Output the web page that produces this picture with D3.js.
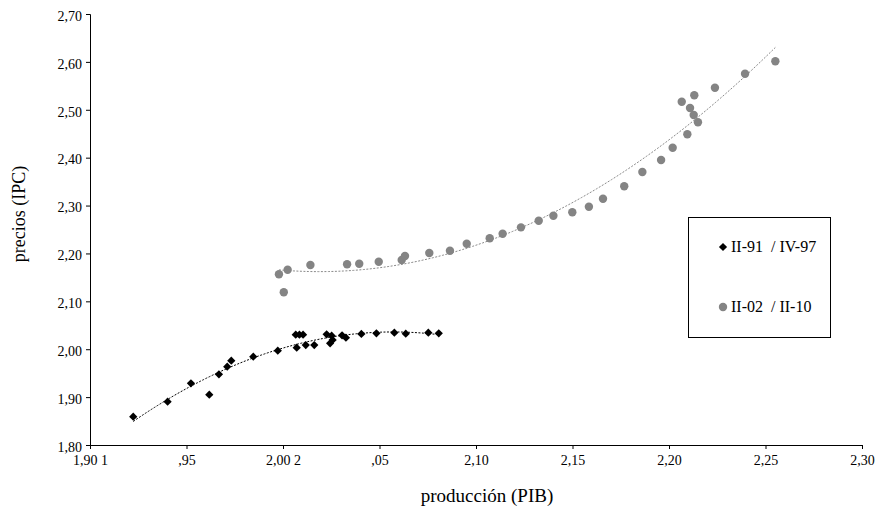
<!DOCTYPE html>
<html>
<head>
<meta charset="utf-8">
<script src="https://cdn.jsdelivr.net/npm/d3@7"></script>
<style>
  body { margin: 0; background: #fff; }
  text { font-family: "Liberation Serif", "DejaVu Serif", serif; }
</style>
</head>
<body>
<script>
// Series 1: II-91 / IV-97 (black diamonds)
let pibA = [1.9224, 1.9402, 1.9523, 1.9618, 1.9668, 1.9711, 1.9732, 1.9846, 1.9973, 2.0066,
            2.0071, 2.0085, 2.0104, 2.0118, 2.0162, 2.0226, 2.0244, 2.0252, 2.0257, 2.0306,
            2.0326, 2.0406, 2.0484, 2.0577, 2.0636, 2.0753, 2.0807];
let ipcA = [1.8591, 1.8904, 1.9288, 1.9051, 1.9476, 1.9635, 1.9760, 1.9844, 1.9969, 2.0303,
            2.0032, 2.0303, 2.0303, 2.0088, 2.0088, 2.0311, 2.0124, 2.0282, 2.0193, 2.0290,
            2.0240, 2.0318, 2.0332, 2.0345, 2.0324, 2.0345, 2.0332];

// Series 2: II-02 / II-10 (grey circles)
let pibB = [1.9979, 2.0004, 2.0024, 2.0142, 2.0332, 2.0395, 2.0496, 2.0615, 2.0632, 2.0758,
            2.0865, 2.0952, 2.1071, 2.1138, 2.1233, 2.1325, 2.1401, 2.1499, 2.1585, 2.1658,
            2.1768, 2.1862, 2.1959, 2.2019, 2.2066, 2.2095, 2.2109, 2.2128, 2.2131, 2.2150,
            2.2238, 2.2394, 2.2551];
let ipcB = [2.1564, 2.1189, 2.1661, 2.1759, 2.1773, 2.1786, 2.1828, 2.1863, 2.1947, 2.2009,
            2.2057, 2.2203, 2.2316, 2.2412, 2.2545, 2.2684, 2.2788, 2.2859, 2.2976, 2.3143,
            2.3402, 2.3701, 2.3951, 2.4208, 2.5169, 2.4488, 2.5037, 2.4891, 2.5302, 2.4738,
            2.5461, 2.5753, 2.6012];

let seriesNames = ["II-91  / IV-97", "II-02  / II-10"];

// Axis ticks and their labels (as printed in the original)
let xTicks = [1.90, 1.95, 2.00, 2.05, 2.10, 2.15, 2.20, 2.25, 2.30];
let xTickLabels = ["1,90 1", ",95", "2,00 2", ",05", "2,10", "2,15", "2,20", "2,25", "2,30"];
let yTicks = [1.80, 1.90, 2.00, 2.10, 2.20, 2.30, 2.40, 2.50, 2.60, 2.70];
let yTickLabels = ["1,80", "1,90", "2,00", "2,10", "2,20", "2,30", "2,40", "2,50", "2,60", "2,70"];

let w = 877;
let h = 511;
let padL = 90, padR = 862, padT = 14, padB = 445;

let svg = d3.select("body")
    .append("svg")
    .attr("width", w)
    .attr("height", h);

let x = d3.scaleLinear().domain([1.90, 2.30]).range([padL, padR]);
let y = d3.scaleLinear().domain([1.80, 2.70]).range([padB, padT]);

// quadratic least-squares fit (like the spreadsheet trendline)
function quadFit(xs, ys) {
    let mx = d3.mean(xs);
    let s = [0, 0, 0, 0, 0], t = [0, 0, 0];
    xs.forEach(function(xv, i) {
        let u = xv - mx;
        for (let k = 0; k < 5; k++) s[k] += Math.pow(u, k);
        for (let k = 0; k < 3; k++) t[k] += ys[i] * Math.pow(u, k);
    });
    // solve 3x3 system with Cramer's rule
    let M = [[s[0], s[1], s[2]], [s[1], s[2], s[3]], [s[2], s[3], s[4]]];
    function det(m) {
        return m[0][0] * (m[1][1] * m[2][2] - m[1][2] * m[2][1])
             - m[0][1] * (m[1][0] * m[2][2] - m[1][2] * m[2][0])
             + m[0][2] * (m[1][0] * m[2][1] - m[1][1] * m[2][0]);
    }
    let D = det(M);
    let coef = [0, 1, 2].map(function(c) {
        let m = M.map(function(row, r) {
            return row.map(function(v, j) { return j === c ? t[r] : v; });
        });
        return det(m) / D;
    });
    return function(xv) {
        let u = xv - mx;
        return coef[0] + coef[1] * u + coef[2] * u * u;
    };
}

function trendPoints(xs, ys) {
    let f = quadFit(xs, ys);
    let lo = d3.min(xs), hi = d3.max(xs);
    return d3.range(0, 101).map(function(i) {
        let xv = lo + (hi - lo) * i / 100;
        return [xv, f(xv)];
    });
}

let line = d3.line()
    .x(function(d) { return x(d[0]); })
    .y(function(d) { return y(d[1]); });

// Axes
let xAxis = d3.axisBottom(x)
    .tickValues(xTicks)
    .tickSize(4)
    .tickFormat(function(d, i) { return xTickLabels[i]; });
let yAxis = d3.axisLeft(y)
    .tickValues(yTicks)
    .tickSize(4)
    .tickFormat(function(d, i) { return yTickLabels[i]; });

let gx = svg.append("g")
    .attr("transform", "translate(0," + padB + ")")
    .call(xAxis);
let gy = svg.append("g")
    .attr("transform", "translate(" + padL + ",0)")
    .call(yAxis);

[gx, gy].forEach(function(g) {
    g.select(".domain").attr("stroke", "#000");
    g.selectAll(".tick line").attr("stroke", "#000");
    g.selectAll(".tick text")
        .style("font-family", "'Liberation Serif', serif")
        .style("font-size", "14px")
        .attr("fill", "#000");
});
gx.selectAll(".tick text").attr("dy", "0.85em").attr("y", 8);
gy.selectAll(".tick text").attr("x", -8).attr("dy", "0.45em");

// Trendlines
svg.append("path")
    .datum(trendPoints(pibB, ipcB))
    .attr("d", line)
    .attr("fill", "none")
    .attr("stroke", "#8a8a8a")
    .attr("stroke-width", 1)
    .attr("stroke-dasharray", "2,1.5");

svg.append("path")
    .datum(trendPoints(pibA, ipcA))
    .attr("d", line)
    .attr("fill", "none")
    .attr("stroke", "#000")
    .attr("stroke-width", 1)
    .attr("stroke-dasharray", "2,1.5");

// Points
let diamond = d3.symbol().type(d3.symbolSquare).size(34);

svg.selectAll("path.ptA")
    .data(d3.zip(pibA, ipcA))
    .enter()
    .append("path")
    .attr("class", "ptA")
    .attr("d", diamond)
    .attr("transform", function(d) {
        return "translate(" + x(d[0]) + "," + y(d[1]) + ") rotate(45)";
    })
    .attr("fill", "#000");

svg.selectAll("circle.ptB")
    .data(d3.zip(pibB, ipcB))
    .enter()
    .append("circle")
    .attr("class", "ptB")
    .attr("cx", function(d) { return x(d[0]); })
    .attr("cy", function(d) { return y(d[1]); })
    .attr("r", 4.2)
    .attr("fill", "#848484");

// Axis titles
svg.append("text")
    .attr("x", 487)
    .attr("y", 502)
    .attr("text-anchor", "middle")
    .style("font-size", "19px")
    .text("producción (PIB)");

svg.append("text")
    .attr("transform", "translate(25,214) rotate(-90)")
    .attr("text-anchor", "middle")
    .style("font-size", "18px")
    .text("precios (IPC)");

// Legend
let lg = svg.append("g");
lg.append("rect")
    .attr("x", 688.5)
    .attr("y", 217.5)
    .attr("width", 142)
    .attr("height", 120)
    .attr("fill", "#fff")
    .attr("stroke", "#000")
    .attr("stroke-width", 1);

lg.append("path")
    .attr("d", diamond)
    .attr("transform", "translate(723,247) rotate(45)")
    .attr("fill", "#000");
lg.append("circle")
    .attr("cx", 723)
    .attr("cy", 307)
    .attr("r", 4.2)
    .attr("fill", "#848484");

lg.selectAll("text")
    .data(seriesNames)
    .enter()
    .append("text")
    .attr("x", 731)
    .attr("y", function(d, i) { return 252 + i * 60; })
    .style("font-size", "16px")
    .style("white-space", "pre")
    .text(function(d) { return d; });
</script>
</body>
</html>
